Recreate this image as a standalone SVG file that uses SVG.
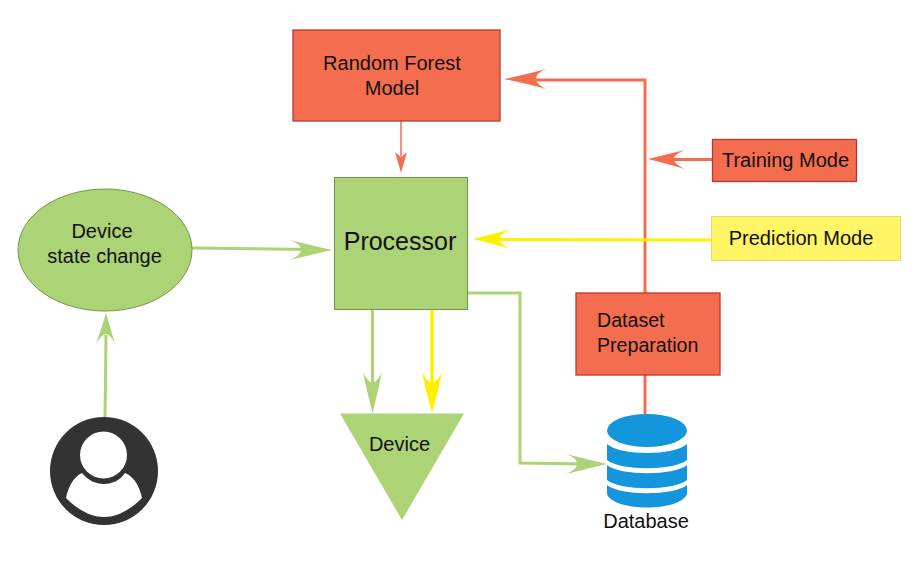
<svg xmlns="http://www.w3.org/2000/svg" width="916" height="570" viewBox="0 0 916 570">
<style>
text{font-family:"Liberation Sans",Arial,sans-serif;fill:#111;font-size:20px;text-anchor:middle}
.red{fill:#f46d4f;stroke:#b93a30;stroke-width:1.3}
.grn{fill:#acd376;stroke:#6f9a45;stroke-width:1}
.c{fill:none;stroke-width:3}
.cr{stroke:#f46d4f}.cg{stroke:#acd376}.cy{stroke:#fff000}
.hr{fill:#f46d4f}.hg{fill:#acd376}.hy{fill:#fff000}
.db{fill:#1496dd}
</style>
<rect width="916" height="570" fill="#fff"/>
<g id="connectors">
<path class="c cr" d="M645 293V80H530"/>
<path class="c cr" d="M712 159.500H670"/>
<path class="c cr" style="stroke-width:1.500" d="M401 121V160"/>
<path class="c cr" d="M645 375V414"/>
<path class="c cy" d="M711 240L500 239.500"/>
<path class="c cg" d="M192 248L310 249.500"/>
<path class="c cg" d="M105 417L106 335"/>
<path class="c cg" d="M372.500 310V390"/>
<path class="c cy" style="stroke-width:3.500" d="M432 310V390"/>
<path class="c cg" d="M468 293H520V463L585 464"/>
<path class="hr" d="M504 79Q528 74 546 69Q536 73 536 79Q536 84 546 89Q528 84 504 79Z"/>
<path class="hr" d="M648 159Q668 154 685 150Q674 154 674 159Q674 164 685 169Q668 164 648 159Z"/>
<path class="hr" d="M401 173Q398 162 395 152Q399 155 401 158Q403 155 407 152Q404 162 401 173Z"/>
<path class="hy" d="M473 239Q494 234 511 229Q500 233 500 239Q500 245 511 249Q494 244 473 239Z"/>
<path class="hg" d="M332 250Q310 245 290 240Q301 244 301 250Q301 255 290 260Q310 255 332 250Z"/>
<path class="hg" d="M106 313Q101 330 96 344Q101 335 106 334Q111 335 115 344Q111 330 106 313Z"/>
<path class="hg" d="M372.500 413Q367 392 363 372Q367 381 372.500 383Q378 381 382 372Q378 392 372.500 413Z"/>
<path class="hy" d="M432 413Q426 392 422 372Q426 381 432 383Q438 381 442 372Q438 392 432 413Z"/>
<path class="hg" d="M607 464Q586 459 566 454Q577 458 577 464Q577 469 566 474Q586 469 607 464Z"/>
</g>
<g id="random-forest"><rect class="red" x="293" y="30" width="207" height="91"/><text x="392" y="70">Random Forest</text><text x="392" y="95">Model</text></g>
<g id="training-mode"><rect class="red" x="712.500" y="139.500" width="144" height="42"/><text x="785.500" y="167">Training Mode</text></g>
<g id="prediction-mode"><rect x="711.500" y="216.500" width="189" height="44" fill="#fff566" stroke="#e6dc6a"/><text x="801" y="245">Prediction Mode</text></g>
<g id="processor"><rect class="grn" x="334.500" y="177.500" width="133" height="132"/><text x="400" y="250" style="font-size:25px">Processor</text></g>
<g id="device-state"><ellipse class="grn" cx="105" cy="250" rx="87" ry="61"/><text x="102" y="238">Device</text><text x="104.500" y="263">state change</text></g>
<g id="dataset"><rect class="red" x="576" y="293" width="144" height="82"/><text x="597" y="327" style="text-anchor:start;font-size:19.600px">Dataset</text><text x="597" y="352" style="text-anchor:start;font-size:19.600px">Preparation</text></g>
<g id="device"><path fill="#acd376" d="M340 413.500H464L402 520Z"/><text x="399.500" y="451">Device</text></g>
<g id="database">
<ellipse class="db" cx="647" cy="430.500" rx="40" ry="16.500"/>
<path class="db" d="M607 444C620 456 674 456 687 444V460C674 471 620 471 607 460Z"/>
<path class="db" d="M607 465C620 476 674 476 687 465V480C674 491 620 491 607 480Z"/>
<path class="db" d="M607 485C620 496 674 496 687 485V494C680 512 614 512 607 494Z"/>
<text x="646" y="528">Database</text>
</g>
<g id="user">
<circle cx="104" cy="471" r="54" fill="#333"/>
<circle cx="103.500" cy="455" r="23.500" fill="#fff"/>
<path fill="#fff" d="M82 473C88 480 95 484 104 484C113 484 120 480 125 473C135 477 140 488 142 498C130 510 117 517 104 517C91 517 78 510 66 498C68 488 73 477 82 473Z"/>
</g>
</svg>
